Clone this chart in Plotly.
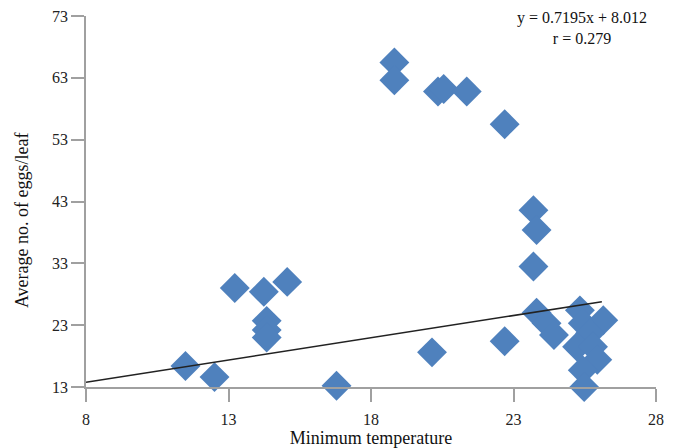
import plotly.graph_objects as go

# Data
min_temp = [11.49, 12.51, 13.22, 14.24, 15.06, 14.34, 14.34, 14.34, 16.79,
            18.82, 18.82, 20.35, 20.55, 21.36, 20.14, 22.69, 22.69,
            23.70, 23.81, 23.70, 23.81, 24.16, 24.42, 25.33, 25.43, 26.15,
            25.69, 25.23, 25.79, 25.94, 25.43, 25.48]
eggs = [16.4, 14.6, 29.0, 28.4, 30.0, 23.7, 22.2, 21.0, 13.2,
        65.5, 62.6, 60.8, 61.2, 60.8, 18.6, 55.5, 20.4,
        41.6, 38.4, 32.5, 25.0, 23.3, 21.4, 25.4, 23.3, 23.8,
        21.7, 19.5, 19.5, 17.4, 15.7, 13.0]

slope = 0.7195
intercept = 8.012
r_value = 0.279
line_x = [8, 26.1]
line_y = [slope * v + intercept for v in line_x]

x_ticks = [8, 13, 18, 23, 28]
y_ticks = [13, 23, 33, 43, 53, 63, 73]

font_family = "Liberation Serif, Times New Roman, serif"

fig = go.Figure()
fig.add_trace(go.Scatter(
    x=min_temp, y=eggs, mode="markers",
    marker=dict(symbol="diamond", size=23, color="#4F81BD"),
    cliponaxis=False, showlegend=False))
fig.add_trace(go.Scatter(
    x=line_x, y=line_y, mode="lines",
    line=dict(color="#222222", width=1.5),
    cliponaxis=False, showlegend=False))

fig.add_annotation(
    x=0.870, y=1.025, xref="paper", yref="paper", xanchor="center", yanchor="top",
    text=f"y = {slope}x + {intercept}<br>r = {r_value}",
    showarrow=False, align="center",
    font=dict(family=font_family, size=16, color="#111"))

# y-axis title (placed as rotated text to match the reference position)
fig.add_annotation(
    x=-0.1123, y=0.45, xref="paper", yref="paper", xanchor="center", yanchor="middle",
    text="Average no. of eggs/leaf", textangle=-90, showarrow=False,
    font=dict(family=font_family, size=18, color="#111"))

axis_common = dict(showgrid=False, zeroline=False, showline=True, automargin=False,
                   linecolor="#a0a0a0", linewidth=1.5, ticks="outside",
                   tickcolor="#a0a0a0", tickwidth=1.5, ticklabeloverflow="allow",
                   tickfont=dict(family=font_family, size=16, color="#222"))

fig.update_layout(
    width=673, height=448,
    margin=dict(l=86, r=17, t=16, b=61),
    plot_bgcolor="white", paper_bgcolor="white",
    xaxis=dict(range=[8, 28], tickvals=x_ticks, ticklen=13, ticklabelstandoff=4,
               title=dict(text="Minimum temperature", standoff=2,
                          font=dict(family=font_family, size=18, color="#111")),
               **axis_common),
    yaxis=dict(range=[13, 73], tickvals=y_ticks, ticklen=13,
               **axis_common),
)

fig.write_html("out.html")
